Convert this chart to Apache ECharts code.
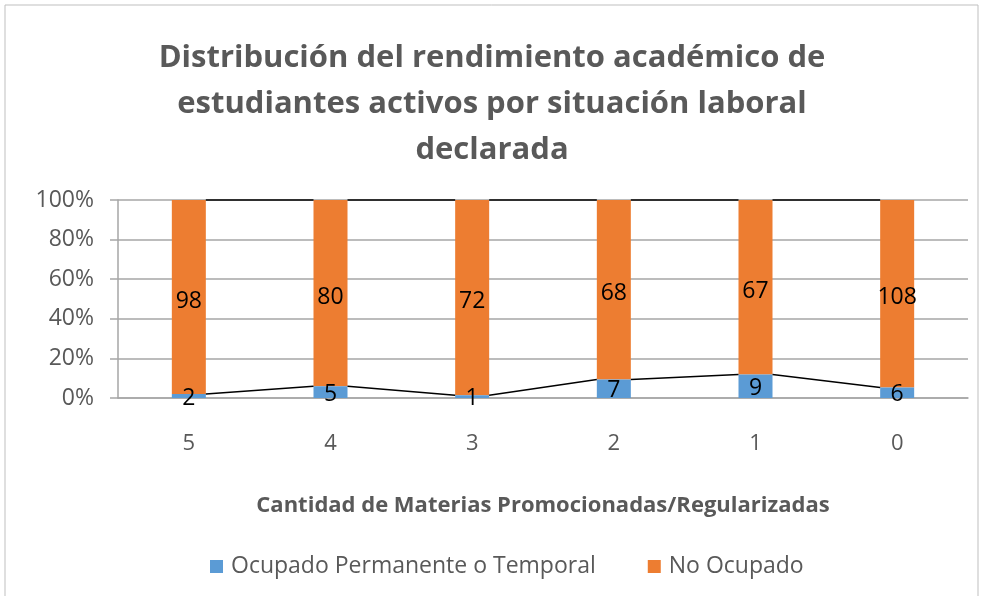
<!DOCTYPE html>
<html>
<head>
<meta charset="utf-8">
<script src="https://cdn.jsdelivr.net/npm/echarts@6/dist/echarts.min.js"></script>
<style>
  html, body { margin: 0; padding: 0; background: #fff; }
  #chart { width: 984px; height: 596px; }
</style>
</head>
<body>
<div id="chart"></div>
<script>
const categories = ['5', '4', '3', '2', '1', '0']
const ocupado = [2, 5, 1, 7, 9, 6]
const noOcupado = [98, 80, 72, 68, 67, 108]
const yTicks = ['0%', '20%', '40%', '60%', '80%', '100%']

const TEXT = '#595959'
const BLUE = '#5B9BD5'
const ORANGE = '#ED7D31'
const BAR_RATIO = 0.24

const totals = ocupado.map((v, i) => v + noOcupado[i])
const pctOcu = ocupado.map((v, i) => v / totals[i] * 100)
const pctNo = noOcupado.map((v, i) => v / totals[i] * 100)

// series lines between adjacent bars (Excel style)
const linkData = categories.slice(0, -1).map((c, i) => [i, pctOcu[i], pctOcu[i + 1]])

function renderLinks(params, api) {
  const i = api.value(0)
  const band = api.size([1, 0])[0]
  const half = band * BAR_RATIO / 2
  const lines = []
  ;[[api.value(1), api.value(2)], [100, 100]].forEach(([a, b]) => {
    const p0 = api.coord([i, a])
    const p1 = api.coord([i + 1, b])
    lines.push({
      type: 'line',
      shape: { x1: p0[0] + half, y1: p0[1], x2: p1[0] - half, y2: p1[1] },
      style: { stroke: '#000', lineWidth: 1.5 }
    })
  })
  return { type: 'group', children: lines }
}

const chart = echarts.init(document.getElementById('chart'))
chart.setOption({
  animation: false,
  textStyle: { fontFamily: 'Open Sans' },
  title: {
    text: 'Distribución del rendimiento académico de\nestudiantes activos por situación laboral\ndeclarada',
    left: 'center',
    top: 30,
    textStyle: { color: TEXT, fontSize: 31, fontWeight: 'bold', lineHeight: 46, fontFamily: 'Open Sans' }
  },
  graphic: [{
    type: 'rect',
    shape: { x: 5, y: 5, width: 973, height: 600 },
    style: { fill: 'none', stroke: '#BFBFBF', lineWidth: 1 },
    silent: true
  }],
  legend: {
    bottom: 13,
    left: 205,
    icon: 'rect',
    itemWidth: 13,
    itemHeight: 13,
    itemGap: 52,
    textStyle: { color: TEXT, fontSize: 23, fontFamily: 'Open Sans', padding: [0, 0, 0, 3] },
    data: ['Ocupado Permanente o Temporal', 'No Ocupado']
  },
  grid: { left: 118, right: 16, top: 200, bottom: 198 },
  xAxis: {
    type: 'category',
    data: categories,
    name: 'Cantidad de Materias Promocionadas/Regularizadas',
    nameLocation: 'middle',
    nameGap: 97,
    nameTextStyle: { color: TEXT, fontSize: 22, fontWeight: 'bold' },
    axisLine: { lineStyle: { color: '#A6A6A6', width: 1.5 } },
    axisTick: { show: false },
    axisLabel: { color: TEXT, fontSize: 22, margin: 35 }
  },
  yAxis: {
    type: 'value',
    min: 0,
    max: 100,
    interval: 20,
    axisLine: { show: true, lineStyle: { color: '#A6A6A6', width: 1.5 } },
    axisTick: { show: true, length: 8, lineStyle: { color: '#A6A6A6', width: 1.5 } },
    axisLabel: { color: TEXT, fontSize: 23, margin: 24, formatter: v => yTicks[v / 20] },
    splitLine: { lineStyle: { color: '#A6A6A6', width: 1.5 } }
  },
  series: [
    {
      name: 'Ocupado Permanente o Temporal',
      type: 'bar',
      stack: 'total',
      barWidth: (BAR_RATIO * 100) + '%',
      itemStyle: { color: BLUE },
      data: pctOcu,
      label: {
        show: true, position: 'inside', color: '#000', fontSize: 23, offset: [0, 2],
        formatter: p => ocupado[p.dataIndex]
      },
      z: 3
    },
    {
      name: 'No Ocupado',
      type: 'bar',
      stack: 'total',
      barWidth: (BAR_RATIO * 100) + '%',
      itemStyle: { color: ORANGE },
      data: pctNo,
      label: {
        show: true, position: 'inside', color: '#000', fontSize: 23, offset: [0, 4],
        formatter: p => noOcupado[p.dataIndex]
      },
      z: 2
    },
    {
      type: 'custom',
      renderItem: renderLinks,
      encode: { x: 0, y: 1 },
      data: linkData,
      silent: true,
      z: 4
    }
  ]
})
</script>
</body>
</html>
